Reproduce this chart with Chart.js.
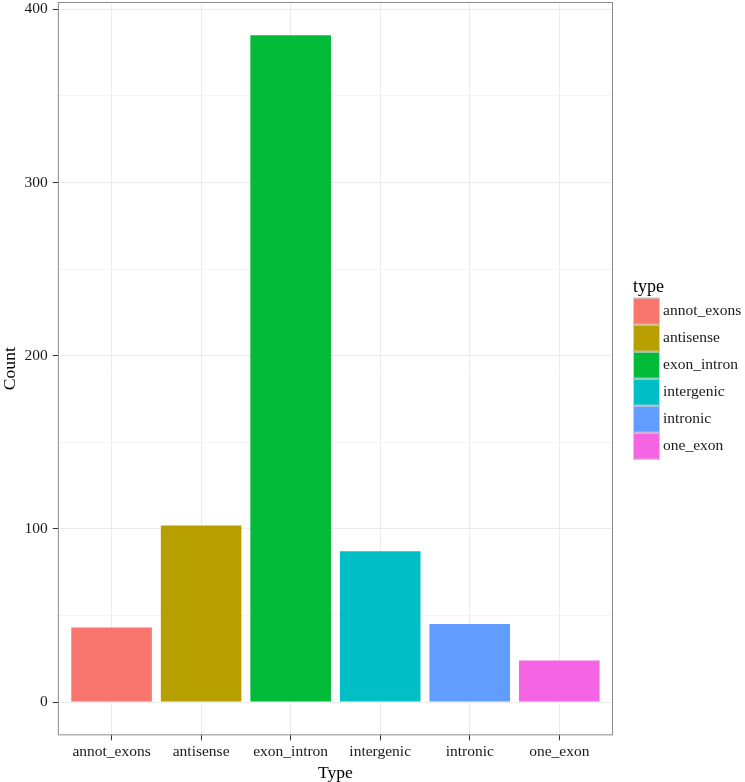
<!DOCTYPE html>
<html>
<head>
<meta charset="utf-8">
<script src="https://cdn.jsdelivr.net/npm/chart.js@4.4.0/dist/chart.umd.min.js"></script>
<style>
  html, body { margin: 0; padding: 0; background: #fff; }
  #wrap { width: 745px; height: 782px; }
</style>
</head>
<body>
<div id="wrap"><canvas id="typeChart" width="745" height="782"></canvas></div>
<script>
// Categories, counts and fill colours (ggplot default hue palette)
const types = ["annot_exons", "antisense", "exon_intron", "intergenic", "intronic", "one_exon"];
const counts = [43, 102, 385, 87, 45, 24];
const typeColors = ["#F8766D", "#B79F00", "#00BA38", "#00BFC4", "#619CFF", "#F564E3"];
const yTicks = [0, 50, 100, 150, 200, 250, 300, 350, 400];
const yMajor = [0, 100, 200, 300, 400];

const serif = "'Liberation Serif', 'DejaVu Serif', serif";
Chart.defaults.font.family = serif;
Chart.defaults.color = "#1a1a1a";

// ggplot-style expansion of the y scale
const yMax = Math.max(...counts);
const yPad = yMax * 0.05;

// Panel border, drawn around the plot area
const panelBorder = {
  id: "panelBorder",
  afterDatasetsDraw(chart) {
    const { ctx, chartArea: a } = chart;
    ctx.save();
    ctx.strokeStyle = "#8a8a8a";
    ctx.lineWidth = 1;
    ctx.strokeRect(a.left + 0.5, a.top + 0.5, a.right - a.left - 1, a.bottom - a.top - 1);
    ctx.restore();
  }
};

// Legend in the ggplot layout, keyed to the dataset colours
const ggLegend = {
  id: "ggLegend",
  afterDraw(chart) {
    const { ctx, chartArea: a } = chart;
    const colors = chart.data.datasets[0].backgroundColor;
    const x0 = a.right + 20;
    const key = 27, titleH = 20;
    const midY = (a.top + a.bottom) / 2;
    let y = midY - (titleH + key * types.length) / 2;
    ctx.save();
    ctx.textBaseline = "middle";
    ctx.fillStyle = "#000";
    ctx.font = "18px " + serif;
    ctx.fillText("type", x0, y + titleH / 2);
    y += titleH;
    ctx.font = "15.5px " + serif;
    types.forEach((t, i) => {
      ctx.fillStyle = colors[i];
      ctx.fillRect(x0, y, key, key);
      ctx.strokeStyle = "#d0d0d0";
      ctx.lineWidth = 1;
      ctx.strokeRect(x0 + 0.5, y + 0.5, key - 1, key - 1);
      ctx.fillStyle = "#1a1a1a";
      ctx.fillText(t, x0 + key + 3, y + key / 2);
      y += key;
    });
    ctx.restore();
  }
};

const ctx = document.getElementById("typeChart").getContext("2d");
new Chart(ctx, {
  type: "bar",
  data: {
    datasets: [{
      data: counts.map((c, i) => ({ x: i + 1, y: c })),
      backgroundColor: typeColors,
      borderWidth: 0,
      barPercentage: 0.9,
      categoryPercentage: 1.0,
    }]
  },
  options: {
    responsive: false,
    animation: false,
    devicePixelRatio: 1,
    layout: { padding: { top: 2, right: 132, bottom: 0, left: 0 } },
    plugins: {
      legend: { display: false },
      tooltip: { enabled: false },
    },
    scales: {
      x: {
        type: "linear",
        offset: false,
        min: 0.4,
        max: types.length + 0.6,
        afterBuildTicks: (s) => { s.ticks = types.map((_, i) => ({ value: i + 1 })); },
        afterFit: (s) => { s.paddingLeft = 0; s.paddingRight = 0; },
        grid: { offset: false, color: "#ebebeb", lineWidth: 1, tickColor: "#333", tickLength: 5 },
        border: { display: false },
        ticks: {
          autoSkip: false,
          maxRotation: 0,
          padding: 3,
          font: { size: 15.5, lineHeight: 1.1 },
          callback: (v) => types[v - 1] ?? "",
        },
        title: { display: true, text: "Type", font: { size: 17.6, lineHeight: 1.0 }, padding: { top: 1, bottom: 0 }, color: "#000" },
      },
      y: {
        min: -yPad,
        max: yMax + yPad,
        afterBuildTicks: (s) => { s.ticks = yTicks.map((v) => ({ value: v })); },
        afterFit: (s) => { s.paddingTop = 0; s.paddingBottom = 0; },
        grid: {
          color: (c) => (yMajor.includes(c.tick.value) ? "#ebebeb" : "#f4f4f4"),
          lineWidth: 1,
          tickColor: (c) => (yMajor.includes(c.tick.value) ? "#333" : "rgba(0,0,0,0)"),
          tickLength: 5,
        },
        border: { display: false },
        ticks: {
          padding: 5,
          font: { size: 15.5 },
          callback: (v) => (yMajor.includes(v) ? String(v) : ""),
        },
        title: { display: true, text: "Count", font: { size: 17.6, lineHeight: 1.0 }, padding: { top: 2, bottom: 0 }, color: "#000" },
      },
    },
  },
  plugins: [panelBorder, ggLegend],
});
</script>
</body>
</html>
